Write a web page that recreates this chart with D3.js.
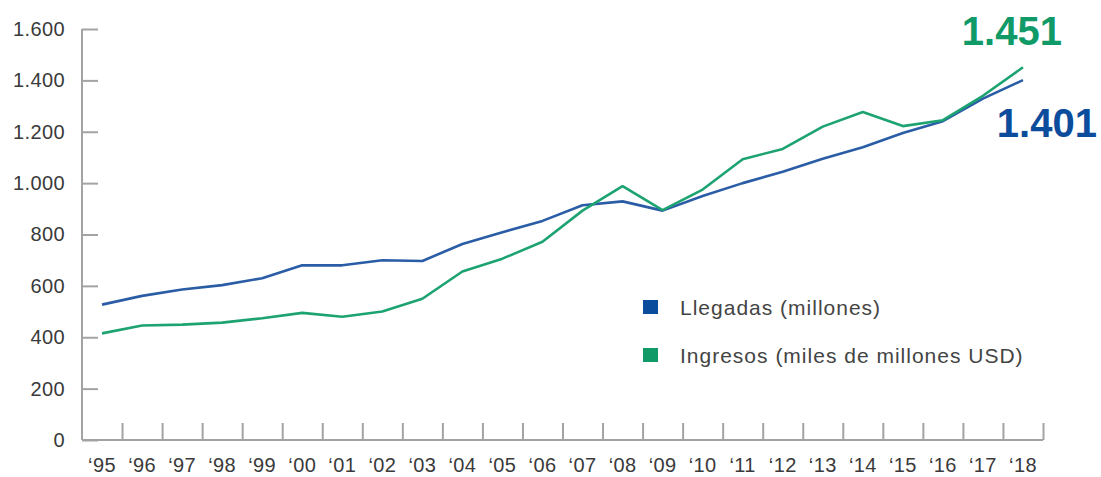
<!DOCTYPE html>
<html>
<head>
<meta charset="utf-8">
<script src="https://cdn.jsdelivr.net/npm/d3@7"></script>
<style>
  body { margin: 0; background: #fff; }
  svg { font-family: "Liberation Sans", Arial, sans-serif; }
  .axis path, .axis line { stroke: #a3a3a3; stroke-width: 2; }
  .axis text { fill: #3a3a3a; font-size: 20px; letter-spacing: 0.4px; }
  .legend-label { fill: #444; font-size: 21px; letter-spacing: 1px; }
  .end-label { font-size: 40px; font-weight: bold; }
</style>
</head>
<body>
<div id="chart"></div>
<script>
// Years shown on the x axis
const years = ["95","96","97","98","99","00","01","02","03","04","05","06",
               "07","08","09","10","11","12","13","14","15","16","17","18"];

// Llegadas de turistas internacionales (millones)
const llegadas = [527, 561, 586, 603, 630, 680, 680, 700, 697, 763, 809, 853,
                  914, 929, 893, 950, 1000, 1044, 1095, 1140, 1195, 1241, 1329, 1401];

// Ingresos por turismo internacional (miles de millones USD)
const ingresos = [415, 446, 449, 457, 474, 495, 480, 500, 550, 656, 706, 772,
                  893, 988, 895, 975, 1093, 1133, 1220, 1277, 1222, 1245, 1340, 1451];

const yTicks = [0, 200, 400, 600, 800, 1000, 1200, 1400, 1600];

const seriesNames = ["Llegadas (millones)", "Ingresos (miles de millones USD)"];
const seriesColors = ["#2a5da6", "#1da371"];
const legendColors = ["#0b4c9c", "#0f9a68"];

const config = {
  width: 1101,
  height: 477,
  margin: {top: 29, right: 58, bottom: 37, left: 82}
};
const width = config.width - config.margin.left - config.margin.right;
const height = config.height - config.margin.top - config.margin.bottom;

const esLocale = d3.formatLocale({decimal: ",", thousands: ".", grouping: [3], currency: ["", ""]});
const fmt = esLocale.format(",d");

const svg = d3.select("#chart").append("svg")
    .attr("width", config.width)
    .attr("height", config.height);

const chart = svg.append("g")
    .attr("transform", `translate(${config.margin.left},${config.margin.top})`);

// Scales
const xScale = d3.scaleBand()
    .domain(years)
    .range([0, width])
    .padding(0);

const xEdge = d3.scaleLinear()
    .domain([0, years.length])
    .range([0, width]);

const yScale = d3.scaleLinear()
    .domain([0, 1600])
    .range([height, 0]);

// Y axis, ticks pointing into the plot
const yAxis = d3.axisLeft(yScale)
    .tickValues(yTicks)
    .tickSize(-16)
    .tickPadding(17)
    .tickFormat(fmt);

chart.append("g")
    .attr("class", "axis y-axis")
    .call(yAxis)
    .call(g => g.select(".domain").attr("d", `M0,0V${height}`));

// X axis labels centred in each band
const xAxis = d3.axisBottom(xScale)
    .tickSize(0)
    .tickPadding(18)
    .tickFormat(d => "\u2018" + d);

chart.append("g")
    .attr("class", "axis x-axis")
    .attr("transform", `translate(0,${height})`)
    .call(xAxis)
    .call(g => g.select(".domain").attr("d", `M0,0H${width}`));

// X axis ticks at band boundaries, pointing upward
const xTickAxis = d3.axisBottom(xEdge)
    .tickValues(d3.range(1, years.length + 1))
    .tickSize(-17)
    .tickFormat("");

chart.append("g")
    .attr("class", "axis x-ticks")
    .attr("transform", `translate(0,${height})`)
    .call(xTickAxis)
    .call(g => g.select(".domain").remove());

// Lines
const line = d3.line()
    .x((d, i) => xScale(years[i]) + xScale.bandwidth() / 2)
    .y(d => yScale(d));

[llegadas, ingresos].forEach((series, i) => {
  chart.append("path")
      .datum(series)
      .attr("fill", "none")
      .attr("stroke", seriesColors[i])
      .attr("stroke-width", 2.6)
      .attr("stroke-linejoin", "round")
      .attr("d", line);
});

// End value labels
const last = years.length - 1;
const lastX = xScale(years[last]) + xScale.bandwidth() / 2;

chart.append("text")
    .attr("class", "end-label")
    .attr("x", lastX + 39)
    .attr("y", yScale(ingresos[last]) - 22)
    .attr("text-anchor", "end")
    .attr("fill", legendColors[1])
    .text(fmt(ingresos[last]));

chart.append("text")
    .attr("class", "end-label")
    .attr("x", lastX + 74)
    .attr("y", yScale(llegadas[last]) + 57)
    .attr("text-anchor", "end")
    .attr("fill", legendColors[0])
    .text(fmt(llegadas[last]));

// Legend
const legend = svg.append("g")
    .attr("transform", "translate(643,300)");

const legendItems = legend.selectAll(".legend-item")
    .data(seriesNames)
  .join("g")
    .attr("class", "legend-item")
    .attr("transform", (d, i) => `translate(0,${i * 48})`);

legendItems.append("rect")
    .attr("width", 15)
    .attr("height", 14)
    .attr("fill", (d, i) => legendColors[i]);

legendItems.append("text")
    .attr("class", "legend-label")
    .attr("x", 37)
    .attr("y", 15)
    .text(d => d);
</script>
</body>
</html>
